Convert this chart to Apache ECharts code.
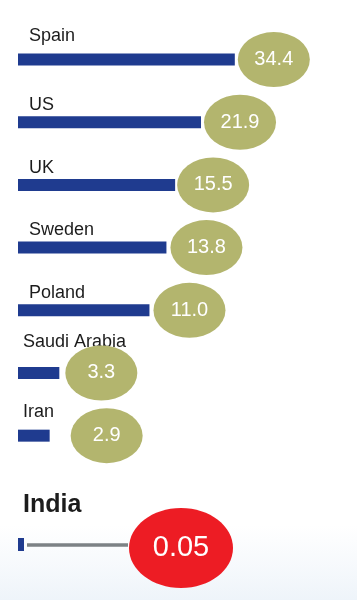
<!DOCTYPE html>
<html><head><meta charset="utf-8">
<script src="https://cdn.jsdelivr.net/npm/echarts@6/dist/echarts.min.js"></script>
<style>html,body{margin:0;padding:0;background:#fff}#c{width:357px;height:600px}</style>
</head><body><div id="c"></div>
<script>
// ---- data ----
const countries = ['Spain', 'US', 'UK', 'Sweden', 'Poland', 'Saudi Arabia', 'Iran'];
const values = [34.4, 21.9, 15.5, 13.8, 11.0, 3.3, 2.9];
const highlightCountry = ['India'];
const highlightValues = [0.05];

// ---- styles ----
const BLUE = '#1f3b8f', OLIVE = '#b3b56e', RED = '#ed1c24', GREY = '#7c8285', INK = '#1c1c1c';
const FONT = "'Liberation Sans', Arial, sans-serif";
const ELLIPSE = 'path://M0,50A50,50 0 1,1 100,50A50,50 0 1,1 0,50Z';
const labelDX = [11, 11, 11, 11, 11, 5, 5];
const labelLift = [6, 0, 0, 0, 0, 14, 6];
const bubbleDX = [39, 39, 38, 40, 40, 42, 57];

const chart = echarts.init(document.getElementById('c'), null, {renderer: 'canvas'});
chart.setOption({
  animation: false,
  backgroundColor: '#ffffff',
  graphic: [{
    type: 'rect', left: 0, top: 525, shape: {width: 357, height: 75}, z: -10, silent: true,
    style: {fill: new echarts.graphic.LinearGradient(0, 0, 0, 1, [
      {offset: 0, color: 'rgba(240,245,250,0)'}, {offset: 1, color: 'rgba(238,244,250,1)'}])}
  }],
  grid: [
    {left: 18, width: 296.7, top: 28.2, height: 438.8},
    {left: 18, width: 60, top: 538, height: 13}
  ],
  xAxis: [
    {type: 'log', logBase: 10, min: 1.9, max: 100, show: false, gridIndex: 0},
    {type: 'value', min: 0, max: 0.5, show: false, gridIndex: 1}
  ],
  yAxis: [
    {type: 'category', data: countries, inverse: true, show: false, gridIndex: 0},
    {type: 'category', data: highlightCountry, show: false, gridIndex: 1}
  ],
  series: [
    {
      type: 'bar', xAxisIndex: 0, yAxisIndex: 0, barWidth: 12, clip: true,
      itemStyle: {color: BLUE},
      data: values.map((v, i) => ({
        value: v,
        label: {position: [labelDX[i], -11.3 - labelLift[i]]}
      })),
      label: {show: true, formatter: '{b}', color: INK, fontSize: 18, fontFamily: FONT,
        align: 'left', verticalAlign: 'middle'}
    },
    {
      type: 'scatter', xAxisIndex: 0, yAxisIndex: 0,
      symbol: ELLIPSE, symbolSize: [72, 55],
      itemStyle: {color: OLIVE, opacity: 1},
      data: values.map((v, i) => ({value: [v, i], symbolOffset: [bubbleDX[i], 0]})),
      label: {show: true, position: 'inside', color: '#fff', fontSize: 20, fontFamily: FONT,
        formatter: p => values[p.dataIndex].toFixed(1)},
      z: 3
    },
    {
      type: 'custom', xAxisIndex: 1, yAxisIndex: 1,
      data: highlightValues.map((v, i) => [v, i]),
      encode: {x: 0, y: 1},
      renderItem: (params, api) => {
        const end = api.coord([api.value(0), api.value(1)]);
        const start = api.coord([0, api.value(1)]);
        const cy = end[1];
        return {type: 'group', children: [
          {type: 'rect', shape: {x: start[0], y: cy - 6.5, width: end[0] - start[0], height: 13}, style: {fill: BLUE}},
          {type: 'line', shape: {x1: end[0] + 3, y1: cy + 0.5, x2: end[0] + 104, y2: cy + 0.5}, style: {stroke: GREY, lineWidth: 3.3}},
          {type: 'ellipse', shape: {cx: end[0] + 157, cy: cy + 3.5, rx: 52, ry: 40}, style: {fill: RED}},
          {type: 'text', x: end[0] + 157, y: cy + 3.5, style: {
            text: highlightValues[params.dataIndex].toFixed(2), fill: '#fff', fontSize: 29,
            fontFamily: FONT, align: 'center', verticalAlign: 'middle'}},
          {type: 'text', x: start[0] + 5, y: cy - 39.5, style: {
            text: highlightCountry[params.dataIndex], fill: INK, fontSize: 25, fontWeight: 'bold',
            fontFamily: FONT, align: 'left', verticalAlign: 'middle'}}
        ]};
      }
    }
  ]
});
</script>
</body></html>
